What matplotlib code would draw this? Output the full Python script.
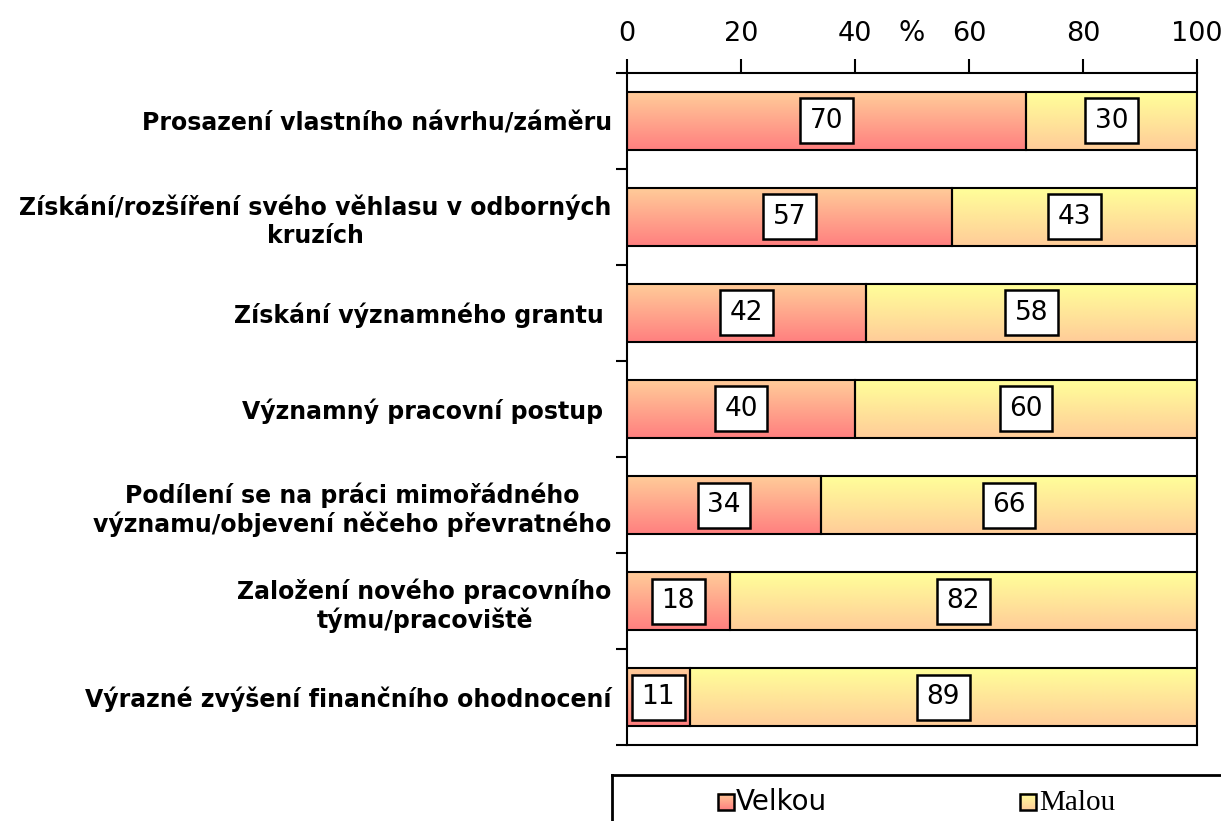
import numpy as np
import matplotlib
matplotlib.use("Agg")
import matplotlib.pyplot as plt
from matplotlib.patches import Rectangle

categories = [
    "Prosazení vlastního návrhu/záměru",
    "Získání/rozšíření svého věhlasu v odborných\nkruzích",
    "Získání významného grantu ",
    "Významný pracovní postup ",
    "Podílení se na práci mimořádného\nvýznamu/objevení něčeho převratného",
    "Založení nového pracovního\ntýmu/pracoviště",
    "Výrazné zvýšení finančního ohodnocení",
]
velkou = [70, 57, 42, 40, 34, 18, 11]
malou = [30, 43, 58, 60, 66, 82, 89]
xticks = [0, 20, 40, 60, 80, 100]

# gradient colours, top -> bottom
velkou_grad = [(1.0, 0.80, 0.60), (1.0, 0.50, 0.50)]
malou_grad = [(1.0, 1.0, 0.60), (1.0, 0.80, 0.60)]


def gradient(top, bottom, n=128):
    t = np.linspace(0, 1, n).reshape(-1, 1, 1)
    top = np.array(top).reshape(1, 1, 3)
    bottom = np.array(bottom).reshape(1, 1, 3)
    return top * (1 - t) + bottom * t


W, H = 1221, 821
fig = plt.figure(figsize=(W / 100, H / 100), dpi=100)
ax = fig.add_axes([627 / W, 1 - 745 / H, (1197 - 627) / W, (745 - 73) / H])

n = len(categories)
centers = np.arange(n) + 0.5
bh = 0.6
g_v = gradient(*velkou_grad)
g_m = gradient(*malou_grad)

for c, v, m in zip(centers, velkou, malou):
    ax.imshow(g_v, extent=(0, v, c + bh / 2, c - bh / 2), aspect="auto",
              interpolation="bilinear", zorder=1)
    ax.imshow(g_m, extent=(v, v + m, c + bh / 2, c - bh / 2), aspect="auto",
              interpolation="bilinear", zorder=1)

ax.barh(centers, velkou, height=bh, fill=False, edgecolor="black", linewidth=1.5, zorder=2)
ax.barh(centers, malou, left=velkou, height=bh, fill=False, edgecolor="black", linewidth=1.5, zorder=2)

box = dict(boxstyle="square,pad=0.36", fc="white", ec="black", lw=1.8)
for c, v, m in zip(centers, velkou, malou):
    ax.text(v / 2, c, str(v), ha="center", va="center", fontsize=19, bbox=box, zorder=3)
    ax.text(v + m / 2, c, str(m), ha="center", va="center", fontsize=19, bbox=box, zorder=3)

ax.set_xlim(0, 100)
ax.set_ylim(n, 0)

ax.xaxis.tick_top()
ax.set_xticks(xticks)
ax.tick_params(axis="x", length=10, width=1.5, pad=9, labelsize=19.5)

ax.set_yticks(centers)
ax.set_yticklabels(categories, fontsize=17, fontweight="bold")
ax.set_yticks(np.arange(n + 1), minor=True)
ax.tick_params(axis="y", which="major", length=0, pad=11)
ax.tick_params(axis="y", which="minor", length=8, width=1.5)
for lab in ax.get_yticklabels():
    lab.set_multialignment("center")

for s in ax.spines.values():
    s.set_linewidth(1.5)

fig.text(912 / W, 1 - 33 / H, "%", ha="center", va="center", fontsize=20)

# legend box at the bottom
lax = fig.add_axes([612 / W, -20 / H, 640 / W, (821 - 775 + 20) / H])
lax.set_xticks([])
lax.set_yticks([])
for s in lax.spines.values():
    s.set_linewidth(2)
lax.imshow(g_v, extent=(718, 734, 11, 27), aspect="auto", zorder=1)
lax.add_patch(Rectangle((718, 11), 16, 16, fill=False, ec="black", lw=1.8, zorder=2))
lax.text(736, 19, "Velkou", ha="left", va="center", fontsize=20)
lax.imshow(g_m, extent=(1020, 1036, 11, 27), aspect="auto", zorder=1)
lax.add_patch(Rectangle((1020, 11), 16, 16, fill=False, ec="black", lw=1.8, zorder=2))
lax.text(1039, 18, "Malou", ha="left", va="center", fontsize=21, family="Liberation Serif")
lax.set_xlim(612, 1252)
lax.set_ylim(-20, 46)

fig.savefig("out.png", dpi=100)
